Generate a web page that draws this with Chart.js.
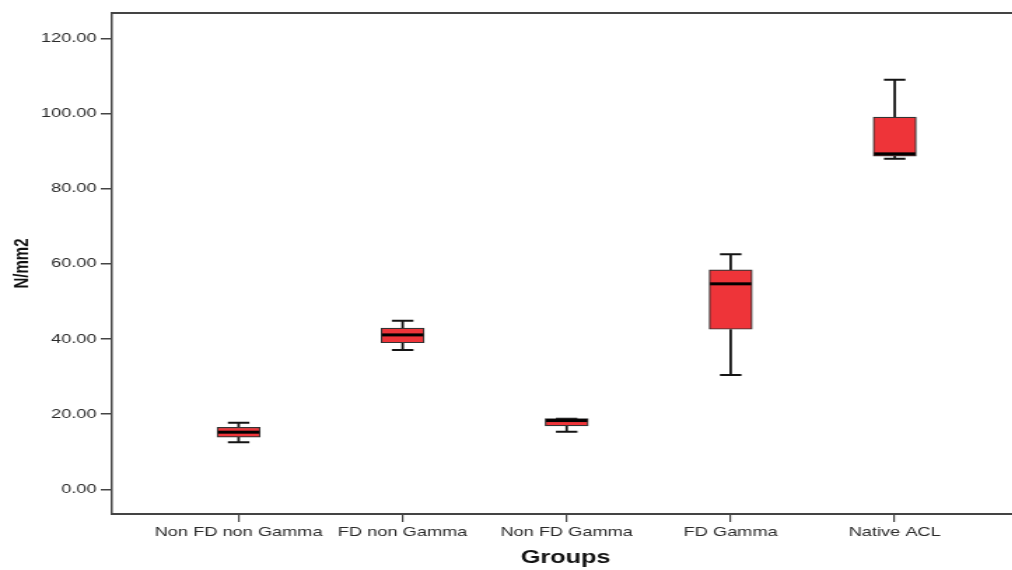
<!DOCTYPE html>
<html>
<head>
<meta charset="utf-8">
<script src="https://cdn.jsdelivr.net/npm/chart.js@4/dist/chart.umd.min.js"></script>
<style>
  html, body { margin: 0; padding: 0; background: #fff; overflow: hidden; width: 1012px; height: 570px; }
  /* the chart is laid out narrow and widened horizontally */
  #wrap { width: 745px; height: 570px; transform: scale(1.4, 1); transform-origin: 0 0; }
  canvas { display: block; }
</style>
</head>
<body>
<div id="wrap"><canvas id="c" width="745" height="570"></canvas></div>
<script>
// Groups and their box-plot statistics (N/mm2)
const categories  = ['Non FD non Gamma', 'FD non Gamma', 'Non FD Gamma', 'FD Gamma', 'Native ACL'];
const whiskerLow  = [12.5, 37.1, 15.3, 30.4, 88.0];
const q1          = [13.9, 39.0, 16.9, 42.6, 88.7];
const median      = [15.2, 41.1, 18.3, 54.7, 89.3];
const q3          = [16.5, 42.9, 18.8, 58.4, 99.1];
const whiskerHigh = [17.7, 44.9, 18.8, 62.6, 109.0];
const yTicks      = [0, 20, 40, 60, 80, 100, 120];

const BOX_WIDTH = 30.7;
const FONT = "'Liberation Sans', Arial, sans-serif";

// Whiskers behind the boxes, medians on top, plus the open frame lines
const boxPlotExtras = {
  id: 'boxPlotExtras',
  beforeDatasetsDraw(chart) {
    const { ctx, scales: { x, y } } = chart;
    const cap = BOX_WIDTH / 4;
    ctx.save();
    ctx.strokeStyle = '#141414';
    categories.forEach((c, i) => {
      const cx = x.getPixelForValue(i);
      ctx.lineWidth = 1.8;
      ctx.beginPath();
      ctx.moveTo(cx, y.getPixelForValue(q3[i]));
      ctx.lineTo(cx, y.getPixelForValue(whiskerHigh[i]));
      ctx.moveTo(cx, y.getPixelForValue(q1[i]));
      ctx.lineTo(cx, y.getPixelForValue(whiskerLow[i]));
      ctx.stroke();
      ctx.lineWidth = 2;
      ctx.beginPath();
      const yh = y.getPixelForValue(whiskerHigh[i]);
      const yl = y.getPixelForValue(whiskerLow[i]);
      ctx.moveTo(cx - cap, yh); ctx.lineTo(cx + cap, yh);
      ctx.moveTo(cx - cap, yl); ctx.lineTo(cx + cap, yl);
      ctx.stroke();
    });
    ctx.restore();
  },
  afterDatasetsDraw(chart) {
    const { ctx, scales: { x, y } } = chart;
    ctx.save();
    ctx.strokeStyle = '#000';
    ctx.lineWidth = 3;
    categories.forEach((c, i) => {
      const cx = x.getPixelForValue(i);
      const ym = y.getPixelForValue(median[i]);
      ctx.beginPath();
      ctx.moveTo(cx - BOX_WIDTH / 2 + 0.6, ym);
      ctx.lineTo(cx + BOX_WIDTH / 2 - 0.6, ym);
      ctx.stroke();
    });
    ctx.restore();
  },
  afterDraw(chart) {
    const { ctx, chartArea: a } = chart;
    ctx.save();
    ctx.strokeStyle = '#444';
    ctx.lineWidth = 2;
    ctx.beginPath();
    // the frame runs on past the right edge of the canvas
    ctx.moveTo(a.left - 0.7, a.top);
    ctx.lineTo(chart.width, a.top);
    ctx.moveTo(a.right - 1, a.bottom);
    ctx.lineTo(chart.width, a.bottom);
    ctx.stroke();
    ctx.restore();
  }
};

new Chart(document.getElementById('c'), {
  type: 'bar',
  data: {
    datasets: [{
      data: categories.map((c, i) => ({ x: i, y: [q1[i], q3[i]] })),
      backgroundColor: '#ee3439',
      borderColor: '#333',
      borderWidth: 1.2,
      borderSkipped: false,
      barThickness: BOX_WIDTH
    }]
  },
  options: {
    responsive: false,
    animation: false,
    layout: { padding: { top: 13, right: 17, left: 0, bottom: 0 } },
    plugins: { legend: { display: false }, tooltip: { enabled: false } },
    scales: {
      x: {
        type: 'linear',
        min: -0.772,
        max: 4.759,
        offset: false,
        afterBuildTicks: s => { s.ticks = categories.map((c, i) => ({ value: i })); },
        afterFit: s => { s.height = 56; },
        ticks: {
          callback: v => categories[v],
          autoSkip: false,
          maxRotation: 0,
          padding: 3,
          color: '#2a2a2a',
          font: { family: FONT, size: 13 }
        },
        grid: { offset: false, drawOnChartArea: false, tickLength: 8, color: '#444', lineWidth: 1.2 },
        border: { display: true, color: '#444', width: 2 },
        title: {
          display: true,
          text: 'Groups',
          color: '#111',
          font: { family: FONT, size: 18, weight: 'bold' },
          padding: { top: 0, bottom: 1 }
        }
      },
      y: {
        type: 'linear',
        min: -6.58,
        max: 126.8,
        afterBuildTicks: s => { s.ticks = yTicks.map(v => ({ value: v })); },
        afterFit: s => { s.width = 80; },
        ticks: {
          callback: v => v.toFixed(2),
          padding: 3,
          color: '#2a2a2a',
          font: { family: FONT, size: 13 }
        },
        grid: { drawOnChartArea: false, tickLength: 8, color: '#444', lineWidth: 1.5 },
        border: { display: true, color: '#444', width: 1.5 },
        title: {
          display: true,
          text: 'N/mm2',
          color: '#111',
          font: { family: FONT, size: 15, weight: 'bold' },
          padding: { top: 7, bottom: 0 }
        }
      }
    }
  },
  plugins: [boxPlotExtras]
});
</script>
</body>
</html>
